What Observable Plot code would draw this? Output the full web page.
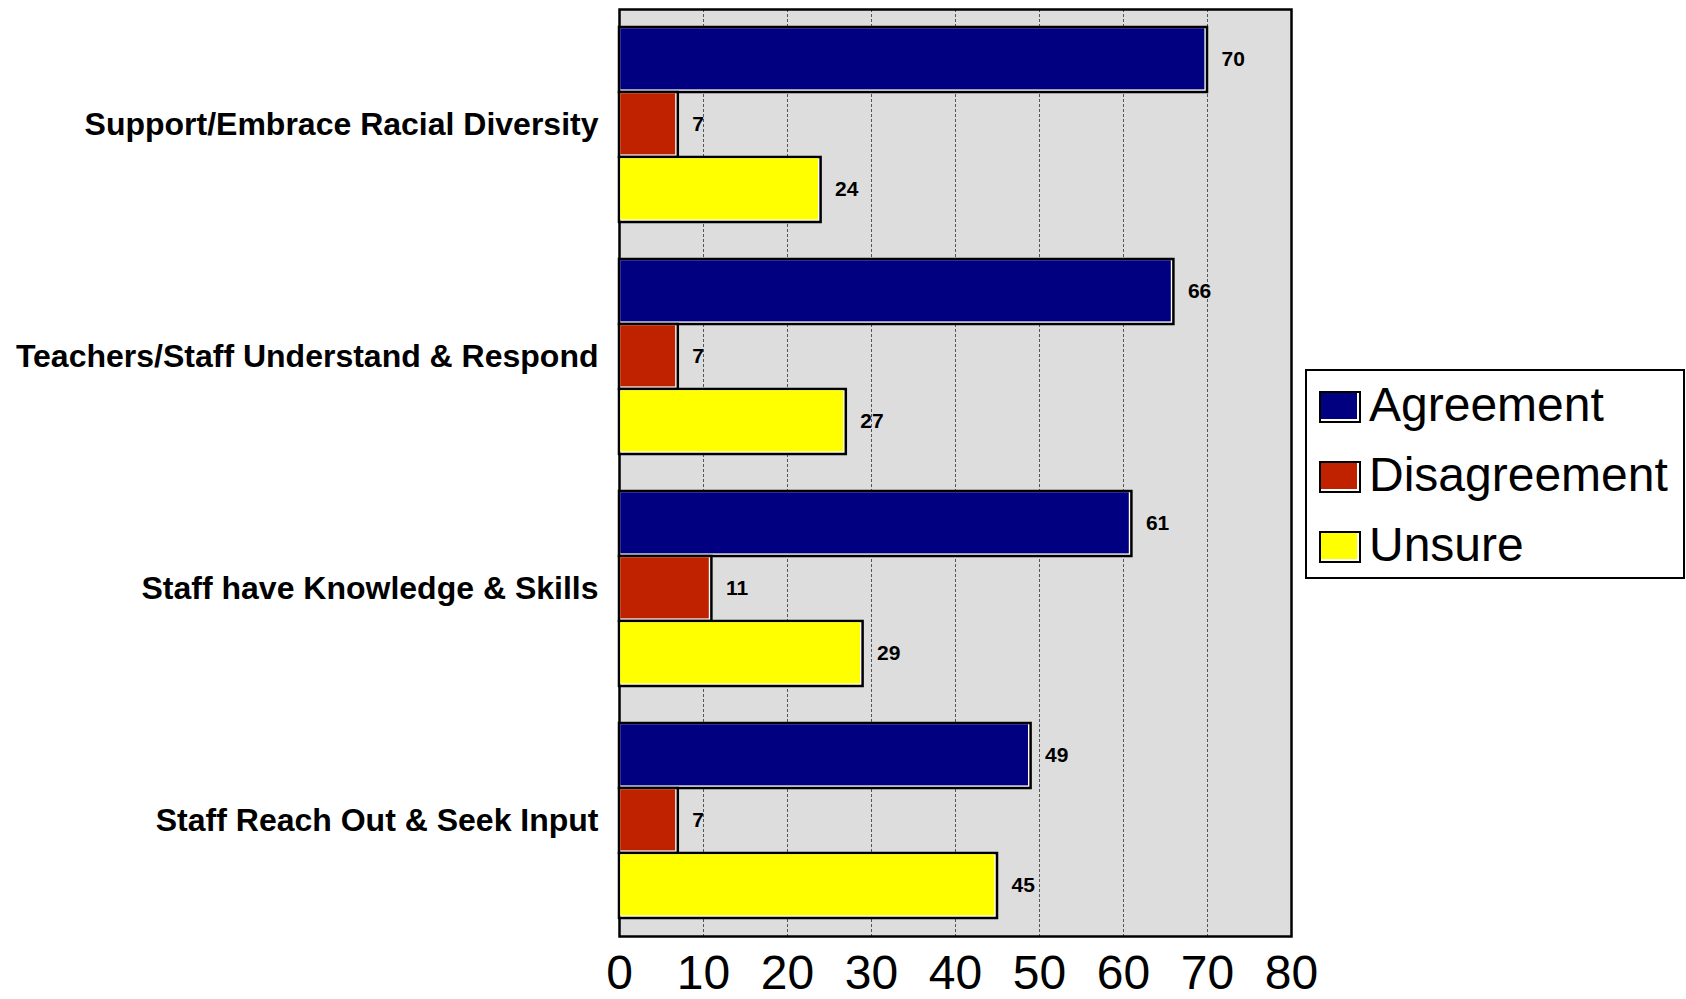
<!DOCTYPE html>
<html>
<head>
<meta charset="utf-8">
<script src="https://cdn.jsdelivr.net/npm/d3@7"></script>
<script src="https://cdn.jsdelivr.net/npm/@observablehq/plot@0.6"></script>
<style>
  html, body { margin: 0; padding: 0; background: #fff; }
  #wrap { position: relative; width: 1686px; height: 999px; overflow: hidden; }
  #wrap > svg { position: absolute; left: 0; top: 0; }
  #legend { position: absolute; left: 1305px; top: 369px; width: 376px; height: 206px; border: 2px solid #000; background: #fff; box-sizing: content-box; }
  .item { position: absolute; left: 12px; height: 36px; display: flex; align-items: center; }
  .sw { width: 38px; height: 28px; border: 2px solid #000; box-shadow: inset -2px -2px 0 #fff; margin-right: 8px; }
  .lbl { font-family: "Liberation Sans", Arial, sans-serif; font-size: 48px; line-height: 36px; color: #000; position: relative; top: -2px; }
</style>
</head>
<body>
<div id="wrap"></div>
<script>
const categories = [
  "Support/Embrace Racial Diversity",
  "Teachers/Staff Understand & Respond",
  "Staff have Knowledge & Skills",
  "Staff Reach Out & Seek Input"
];
const seriesNames = ["Agreement", "Disagreement", "Unsure"];
const agreement = [70, 66, 61, 49];
const disagreement = [7, 7, 11, 7];
const unsure = [24, 27, 29, 45];
const seriesColors = ["#000080", "#C02200", "#FFFF00"];
const xTicks = [0, 10, 20, 30, 40, 50, 60, 70, 80];

const seriesValues = [agreement, disagreement, unsure];
const data = categories.flatMap((c, i) =>
  seriesNames.map((s, j) => ({category: c, series: s, value: seriesValues[j][i]}))
);

const common = {
  width: 1686,
  height: 999,
  marginLeft: 619,
  marginRight: 395,
  marginTop: 9,
  marginBottom: 63,
  style: {fontFamily: "'Liberation Sans', Arial, sans-serif", background: "transparent", overflow: "visible"}
};

// Background layer: panel, dashed grid, frame, x axis
const back = Plot.plot({
  ...common,
  x: {domain: [0, 80]},
  y: {axis: null},
  marks: [
    Plot.frame({fill: "#DDDDDD", stroke: null}),
    Plot.ruleX(xTicks.slice(1, -1), {stroke: "#555", strokeWidth: 1, strokeDasharray: "3,2"}),
    Plot.frame({stroke: "#000", strokeWidth: 2.5}),
    Plot.axisX({ticks: xTicks, anchor: "bottom", tickSize: 0, tickPadding: 18, fontSize: 48, fontFamily: "'Liberation Sans', Arial, sans-serif", fill: "#000", label: null})
  ]
});

// Foreground layer: grouped bars, value labels, category labels
const front = Plot.plot({
  ...common,
  x: {domain: [0, 80], axis: null},
  y: {domain: seriesNames, padding: 0, axis: null},
  fy: {domain: categories, paddingInner: 0.15, paddingOuter: 0.066, axis: null},
  color: {domain: seriesNames, range: seriesColors},
  marks: [
    Plot.barX(data, {x: "value", y: "series", fy: "category", fill: "#fff", stroke: "#000", strokeWidth: 2.5}),
    Plot.barX(data, {x: "value", y: "series", fy: "category", fill: "series", insetLeft: 1.25, insetTop: 1.25, insetRight: 2.6, insetBottom: 2.6}),
    Plot.text(data, {x: "value", y: "series", fy: "category", text: d => String(d.value), dx: 14, dy: -1, textAnchor: "start", fontSize: 21, fontWeight: "bold", fill: "#000"}),
    Plot.axisFy({anchor: "left", tickSize: 0, tickPadding: 21, fontSize: 32, fontWeight: "bold", fill: "#000", label: null})
  ]
});

const wrap = document.getElementById("wrap");
wrap.appendChild(back);
wrap.appendChild(front);

const legend = document.createElement("div");
legend.id = "legend";
seriesNames.forEach((s, i) => {
  const item = document.createElement("div");
  item.className = "item";
  item.style.top = (18 + i * 70) + "px";
  const sw = document.createElement("div");
  sw.className = "sw";
  sw.style.background = seriesColors[i];
  const lbl = document.createElement("span");
  lbl.className = "lbl";
  lbl.textContent = s;
  item.appendChild(sw);
  item.appendChild(lbl);
  legend.appendChild(item);
});
wrap.appendChild(legend);
</script>
</body>
</html>
